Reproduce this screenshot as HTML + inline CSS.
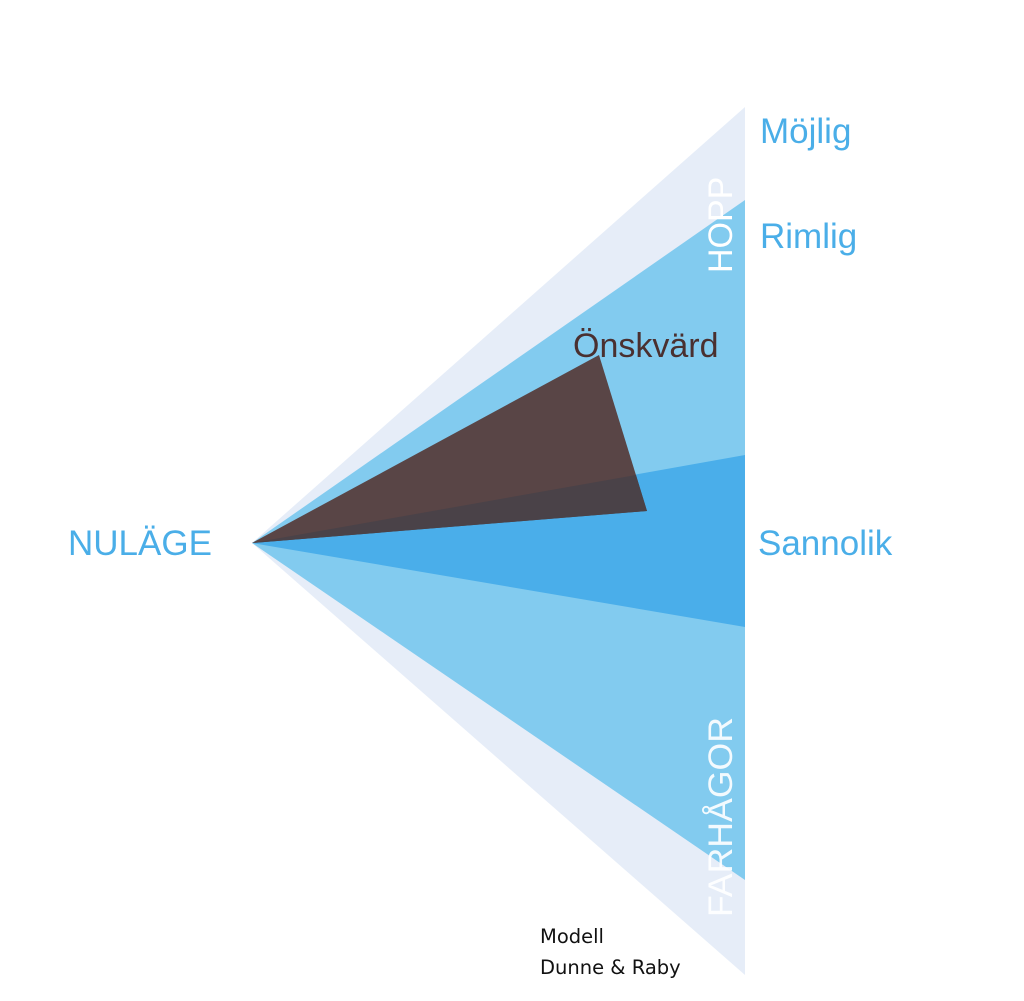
<!DOCTYPE html>
<html><head><style>
html,body{margin:0;padding:0;background:#fff;}
body{width:1024px;height:1001px;overflow:hidden;}
svg{display:block}
</style></head><body>
<svg width="1024" height="1001" viewBox="0 0 1024 1001" xmlns="http://www.w3.org/2000/svg">
<polygon points="252,543 745,107 745,975" fill="#e6edf8"/>
<polygon points="252,543 745,200 745,880" fill="#82cbef"/>
<polygon points="252,543 745,455 745,627" fill="#4aaeea"/>
<polygon points="252,543 599,355 647,511" fill="#594546"/>
<polygon points="252,543 636,475 647,511" fill="#4a4248"/>
<g font-family="Liberation Sans, sans-serif" fill="#4aaee8" font-size="35">
<text x="760" y="143">Möjlig</text>
<text x="760" y="248">Rimlig</text>
<text x="758" y="555">Sannolik</text>
<text x="68" y="555">NULÄGE</text>
</g>
<text x="573" y="357" font-family="Liberation Sans, sans-serif" font-size="34" fill="#4a3030">Önskvärd</text>
<text transform="translate(732,273) rotate(-90)" font-family="Liberation Sans, sans-serif" font-size="34" fill="#ffffff">HOPP</text>
<text transform="translate(732,917) rotate(-90)" font-family="Liberation Sans, sans-serif" font-size="34" fill="#ffffff" fill-opacity="0.9" textLength="200" lengthAdjust="spacingAndGlyphs">FARHÅGOR</text>
<g font-family="DejaVu Sans, Liberation Sans, sans-serif" font-size="19.5" fill="#111">
<text x="540" y="943">Modell</text>
<text x="540" y="974">Dunne &amp; Raby</text>
</g>
</svg>
</body></html>
